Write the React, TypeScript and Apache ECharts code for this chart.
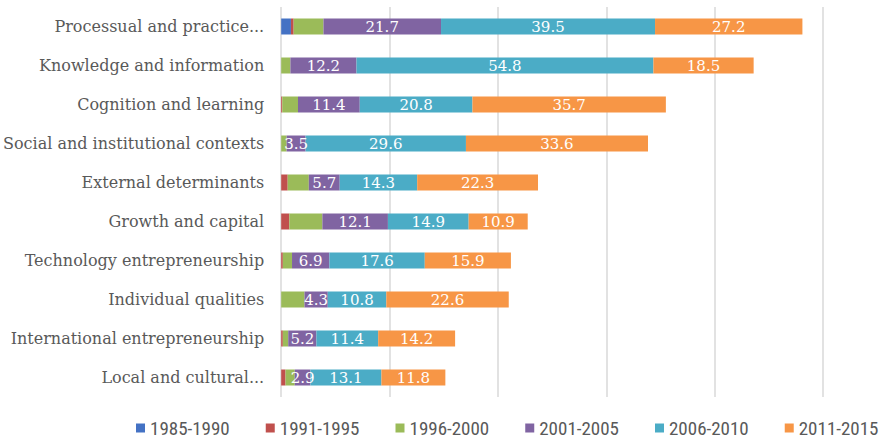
import React, { useEffect, useRef } from "react";
import * as echarts from "echarts";

const categories = [
  "Processual and practice...",
  "Knowledge and information",
  "Cognition and learning",
  "Social and institutional contexts",
  "External determinants",
  "Growth and capital",
  "Technology entrepreneurship",
  "Individual qualities",
  "International entrepreneurship",
  "Local and cultural...",
];

const seriesNames = ["1985-1990", "1991-1995", "1996-2000", "2001-2005", "2006-2010", "2011-2015"];

const s1985 = [1.8, 0, 0, 0, 0, 0, 0, 0, 0, 0];
const s1991 = [0.5, 0, 0.2, 0, 1.2, 1.5, 0.3, 0, 0.3, 0.8];
const s1996 = [5.5, 1.7, 2.9, 1.0, 3.9, 6.1, 1.7, 4.3, 1.0, 1.7];
const s2001 = [21.7, 12.2, 11.4, 3.5, 5.7, 12.1, 6.9, 4.3, 5.2, 2.9];
const s2006 = [39.5, 54.8, 20.8, 29.6, 14.3, 14.9, 17.6, 10.8, 11.4, 13.1];
const s2011 = [27.2, 18.5, 35.7, 33.6, 22.3, 10.9, 15.9, 22.6, 14.2, 11.8];

const seriesData = [s1985, s1991, s1996, s2001, s2006, s2011];
const colors = ["#4472C4", "#C0504D", "#9BBB59", "#8064A2", "#4BACC6", "#F79646"];
const labelled = [false, false, false, true, true, true];

const serif = "'DejaVu Serif', 'Liberation Serif', serif";
const narrow = "'Liberation Sans Narrow', 'Roboto Condensed', 'Liberation Sans', sans-serif";

export default function App() {
  const ref = useRef<HTMLDivElement>(null);
  useEffect(() => {
    if (!ref.current) return;
    const chart = echarts.init(ref.current, null, { renderer: "svg" });
    chart.setOption({
      animation: false,
      backgroundColor: "#ffffff",
      color: colors,
      grid: { left: 281, right: 64, top: 7, bottom: 43, containLabel: false },
      legend: {
        data: seriesNames,
        left: 131,
        top: 413,
        padding: 5,
        itemWidth: 9,
        itemHeight: 9,
        itemGap: 36,
        icon: "rect",
        textStyle: { fontSize: 19, lineHeight: 20, color: "#595959", fontFamily: narrow },
      },
      xAxis: {
        type: "value",
        min: 0,
        max: 100,
        interval: 20,
        axisLabel: { show: false },
        axisLine: { show: false },
        axisTick: { show: false },
        splitLine: { show: true, lineStyle: { color: "#d9d9d9", width: 1.5 } },
      },
      yAxis: {
        type: "category",
        data: categories,
        inverse: true,
        axisLine: { show: false },
        axisTick: { show: false },
        axisLabel: { fontSize: 16, color: "#595959", fontFamily: serif, margin: 17 },
      },
      series: seriesData.map((d, i) => ({
        name: seriesNames[i],
        type: "bar",
        stack: "total",
        barWidth: 16,
        data: d,
        itemStyle: { color: colors[i] },
        label: {
          show: labelled[i],
          position: "inside",
          color: "#ffffff",
          fontSize: 15,
          fontFamily: serif,
        },
      })),
    });
    return () => chart.dispose();
  }, []);
  return (
    <div
      ref={ref}
      style={{ position: "fixed", left: 0, top: 0, width: 887, height: 440 }}
    />
  );
}
